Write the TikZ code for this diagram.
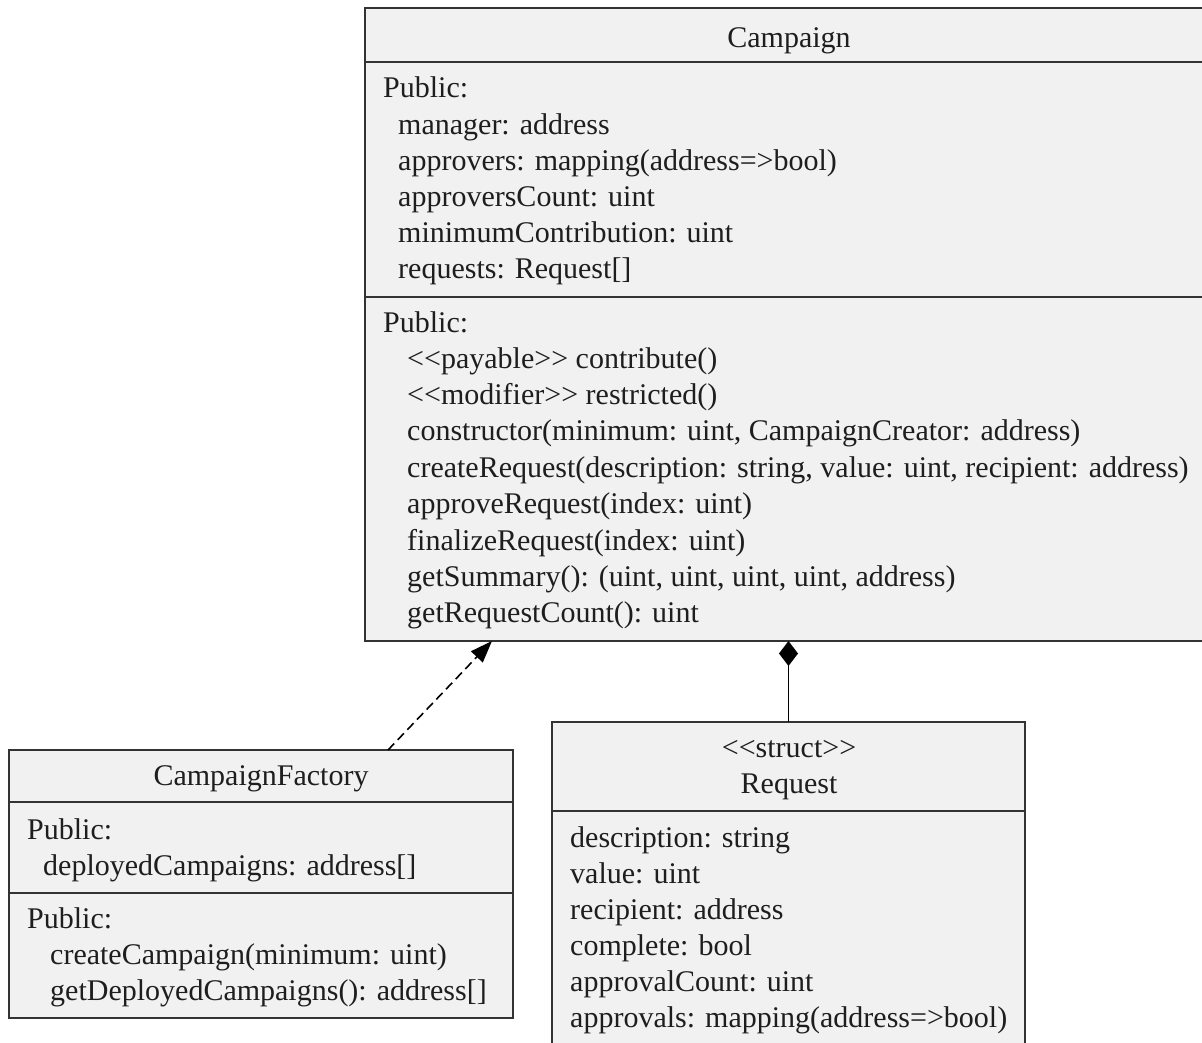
\documentclass[tikz,border=0pt]{standalone}
\usepackage{fontspec}
\setmainfont{Liberation Serif}
\usetikzlibrary{arrows.meta}
\definecolor{boxfill}{HTML}{F1F1F1}
\definecolor{boxline}{HTML}{333333}
\definecolor{textcol}{HTML}{1E1E1E}

\begin{document}
\begin{tikzpicture}[x=1pt, y=-1pt,
  compart/.style={draw=boxline, line width=1.7pt, fill=boxfill, anchor=north west, inner sep=0pt, outer sep=0pt},
  member/.style={anchor=base west, inner sep=0pt, text=textcol, font=\fontsize{30}{36}\selectfont},
  title/.style={member, anchor=base},
  realize/.style={draw=black, line width=1.6pt, dash pattern=on 9pt off 5pt, -{Triangle[length=22pt,width=16pt]}},
  compose/.style={draw=black, line width=1.6pt, -{Diamond[length=25pt,width=19pt]}}]
\useasboundingbox (0,0) rectangle (1202,1042);
% Campaign
\node[compart, minimum width=848pt, minimum height=54pt] (camp-name) at (365,8) {};
\node[compart, minimum width=848pt, minimum height=235pt] (camp-attr) at (365,62) {};
\node[compart, minimum width=848pt, minimum height=344pt] (camp-ops) at (365,297) {};
\node[title] (camp-title) at (789,47) {Campaign};
\node[member] (ca-pub) at (383,97) {Public:};
\foreach \t [count=\i] in {manager: address, approvers: mapping(address=>bool), approversCount: uint, minimumContribution: uint, requests: Request[]}
  \node[member, name=ca-\i] at (398,{134+36*(\i-1)}) {\t};
\node[member] (co-pub) at (383,332) {Public:};
\foreach \t [count=\i] in {<{}<payable>{}> contribute(), <{}<modifier>{}> restricted(), {constructor(minimum: uint, CampaignCreator: address)}, {createRequest(description: string, value: uint, recipient: address)}, approveRequest(index: uint), finalizeRequest(index: uint), {getSummary(): (uint, uint, uint, uint, address)}, getRequestCount(): uint}
  \node[member, name=co-\i] at (407,{368+36.4*(\i-1)}) {\t};
% CampaignFactory
\node[compart, minimum width=504pt, minimum height=52pt] (fact-name) at (9,750) {};
\node[compart, minimum width=504pt, minimum height=91pt] (fact-attr) at (9,802) {};
\node[compart, minimum width=504pt, minimum height=125pt] (fact-ops) at (9,893) {};
\node[title] (fact-title) at (261,785) {CampaignFactory};
\node[member] (fa-pub) at (27,839) {Public:};
\node[member] (fa-1) at (43,875) {deployedCampaigns: address[]};
\node[member] (fo-pub) at (27,928) {Public:};
\node[member] (fo-1) at (50,964) {createCampaign(minimum: uint)};
\node[member] (fo-2) at (50,1000) {getDeployedCampaigns(): address[]};
% Request
\node[compart, minimum width=473pt, minimum height=89pt] (req-name) at (552,722) {};
\node[compart, minimum width=473pt, minimum height=260pt] (req-attr) at (552,811) {};
\node[title] (req-stereo) at (789,757) {<{}<struct>{}>};
\node[title] (req-title) at (789,793) {Request};
\foreach \t [count=\i] in {description: string, value: uint, recipient: address, complete: bool, approvalCount: uint, approvals: mapping(address=>bool)}
  \node[member, name=ra-\i] at (570,{847+36*(\i-1)}) {\t};
% connectors
\coordinate (dep-from) at (388,750);
\coordinate (dep-to) at (492,641);
\draw[realize] (dep-from) -- (dep-to);
\draw[compose] (req-name.north) -- (req-name.north |- camp-ops.south);
\end{tikzpicture}
\end{document}
